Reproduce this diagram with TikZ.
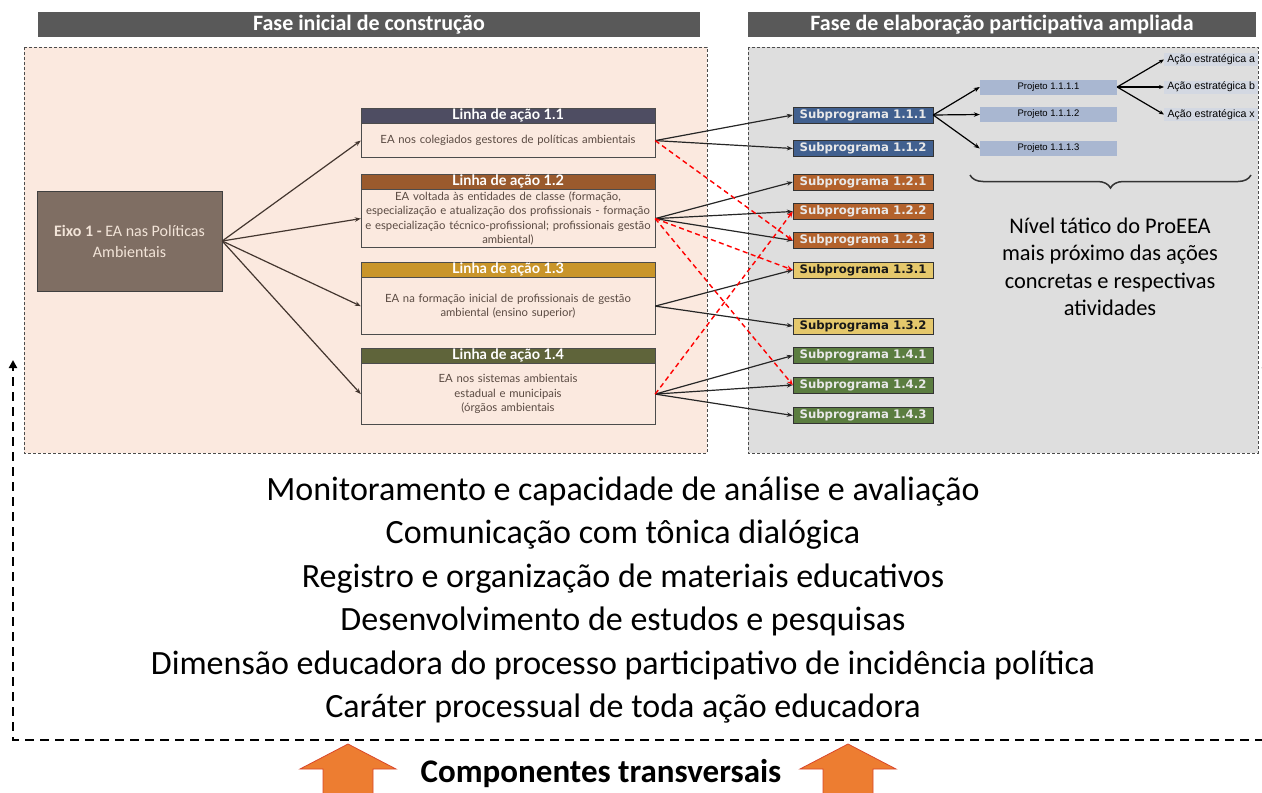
\documentclass[tikz,border=0pt]{standalone}
\usepackage{fontspec}
\setmainfont{Carlito}
\newfontfamily\latofont{Lato}
\newfontfamily\tahofont{DejaVu Sans}
\newfontfamily\arialfont{Liberation Sans}
\usetikzlibrary{arrows.meta,decorations.pathreplacing}

\definecolor{hdrgray}{HTML}{595959}
\definecolor{peach}{HTML}{FBE9DF}
\definecolor{panelgray}{HTML}{DEDEDE}
\definecolor{eixobrown}{HTML}{7F6E63}
\definecolor{eixotext}{HTML}{F2E4D8}
\definecolor{lhead11}{HTML}{4E4D62}
\definecolor{lhead12}{HTML}{9A5A2D}
\definecolor{lhead13}{HTML}{C9952A}
\definecolor{lhead14}{HTML}{5F643A}
\definecolor{sblue}{HTML}{41608F}
\definecolor{sorange}{HTML}{B3622C}
\definecolor{syellow}{HTML}{E5C86C}
\definecolor{sgreen}{HTML}{5B7D40}
\definecolor{subtext}{HTML}{E8E8E8}
\definecolor{projblue}{HTML}{A9B7D1}
\definecolor{acaoblue}{HTML}{D3D8E2}
\definecolor{linkbrown}{HTML}{43362F}
\definecolor{bodytext}{HTML}{5A4A42}
\definecolor{arroworange}{HTML}{ED7D31}
\definecolor{arrowedge}{HTML}{D9472B}

\begin{document}
\begin{tikzpicture}[x=1pt,y=-1pt,
  phasehead/.style={fill=hdrgray, text=white, minimum height=25, inner sep=0pt,
    font=\bfseries\fontsize{22}{24}\selectfont},
  panelline/.style={draw=black!70, line width=0.8pt, dash pattern=on 3pt off 2pt},
  eixobox/.style={draw=black!75, fill=eixobrown, text=eixotext, minimum width=185,
    minimum height=100, align=center, inner sep=0pt, font=\fontsize{16}{21}\selectfont},
  linhahead/.style={draw=black!70, fill=#1, text=white, minimum width=294, minimum height=15,
    inner sep=0pt, anchor=north, font=\latofont\bfseries\fontsize{14.5}{15}\selectfont},
  linhabody/.style={draw=black!70, fill=peach, text=bodytext, minimum width=294,
    minimum height=#1, text width=292, align=center, inner sep=0pt, anchor=north,
    font=\latofont\fontsize{11.3}{14.5}\selectfont},
  subbox/.style={draw=black!80, fill=#1, text=subtext, minimum width=140, minimum height=16,
    inner sep=0pt, font=\tahofont\bfseries\fontsize{11.7}{12}\selectfont},
  subdark/.style={subbox=syellow, text=black!90},
  projeto/.style={fill=projblue, minimum width=137, minimum height=15, inner sep=0pt,
    font=\arialfont\fontsize{9.5}{10}\selectfont},
  acao/.style={fill=acaoblue, minimum width=94, minimum height=13, inner sep=1pt, anchor=west,
    font=\arialfont\fontsize{10.6}{11}\selectfont},
  connector/.style={draw=linkbrown, line width=1.2pt, -{Stealth[length=6pt,width=4.5pt]}},
  reddash/.style={draw=red, line width=1.4pt, dash pattern=on 5pt off 3.5pt,
    -{Stealth[length=6pt,width=5pt]}},
  transarrow/.style={line width=2.4pt, dash pattern=on 9pt off 6pt,
    {Triangle[length=8pt,width=8pt]}-{Triangle[length=8pt,width=8pt]}},
]
\useasboundingbox (0,0) rectangle (1262,793);

% panels and phase titles
\draw[panelline, fill=peach] (24,47) rectangle (707,453);
\draw[panelline, fill=panelgray] (748,47) rectangle (1258,453);
\node[phasehead, minimum width=662] (faseA) at (369,24.5) {Fase inicial de construção};
\node[phasehead, minimum width=508] (faseB) at (1002,24.5) {Fase de elaboração participativa ampliada};

% eixo and linhas de acao
\node[eixobox] (eixo) at (129.5,241) {\textbf{Eixo 1 -} EA nas Políticas\\Ambientais};

\node[linhahead=lhead11] (h11) at (508,108) {Linha de ação 1.1};
\node[linhabody=34] (b11) at (h11.south) {EA nos colegiados gestores de políticas ambientais};
\node[linhahead=lhead12] (h12) at (508,174) {Linha de ação 1.2};
\node[linhabody=58] (b12) at (h12.south) {EA voltada às entidades de classe (formação,\\especialização e atualização dos profissionais - formação\\e especialização técnico-profissional; profissionais gestão\\ambiental)};
\node[linhahead=lhead13] (h13) at (508,262) {Linha de ação 1.3};
\node[linhabody=57] (b13) at (h13.south) {EA na formação inicial de profissionais de gestão\\ambiental (ensino superior)};
\node[linhahead=lhead14] (h14) at (508,348) {Linha de ação 1.4};
\node[linhabody=61] (b14) at (h14.south) {EA nos sistemas ambientais\\estadual e municipais\\(órgãos ambientais};

% subprogramas
\node[subbox=sblue] (s111) at (863,115) {Subprograma 1.1.1};
\node[subbox=sblue] (s112) at (863,148.5) {Subprograma 1.1.2};
\node[subbox=sorange] (s121) at (863,182) {Subprograma 1.2.1};
\node[subbox=sorange] (s122) at (863,211.5) {Subprograma 1.2.2};
\node[subbox=sorange] (s123) at (863,240.5) {Subprograma 1.2.3};
\node[subdark] (s131) at (863,270) {Subprograma 1.3.1};
\node[subdark] (s132) at (863,326) {Subprograma 1.3.2};
\node[subbox=sgreen] (s141) at (863,355.5) {Subprograma 1.4.1};
\node[subbox=sgreen] (s142) at (863,385) {Subprograma 1.4.2};
\node[subbox=sgreen] (s143) at (863,415.5) {Subprograma 1.4.3};

% projetos and acoes
\node[projeto] (p1) at (1048.5,87) {Projeto 1.1.1.1};
\node[projeto] (p2) at (1048.5,114.5) {Projeto 1.1.1.2};
\node[projeto] (p3) at (1048.5,148.5) {Projeto 1.1.1.3};
\node[acao] (a1) at (1164,59.5) {Ação estratégica a};
\node[acao] (a2) at (1164,87) {Ação estratégica b};
\node[acao] (a3) at (1164,114.5) {Ação estratégica x};

% connectors
\foreach \b in {b11,b12,b13,b14}
  \draw[connector] (eixo.east) -- (\b.west);
\draw[connector, draw=black!85] (b11.east) -- (s111.west);
\draw[connector, draw=black!85] (b11.east) -- (s112.west);
\draw[connector, draw=black!85] (b12.east) -- (s121.west);
\draw[connector, draw=black!85] (b12.east) -- (s122.west);
\draw[connector, draw=black!85] (b12.east) -- (s123.west);
\draw[connector, draw=black!85] (b13.east) -- (s131.west);
\draw[connector, draw=black!85] (b13.east) -- (s132.west);
\draw[connector, draw=black!85] (b14.east) -- (s141.west);
\draw[connector, draw=black!85] (b14.east) -- (s142.west);
\draw[connector, draw=black!85] (b14.east) -- (s143.west);
\draw[reddash] (b11.east) -- (s123.west);
\draw[reddash] (b12.east) -- (s131.west);
\draw[reddash] (b12.east) -- (s142.west);
\draw[reddash] (b14.east) -- (s122.west);
\foreach \p in {p1,p2,p3}
  \draw[connector, draw=black] (s111.east) -- (\p.west);
\foreach \a in {a1,a2,a3}
  \draw[connector, draw=black, -{Stealth[length=5pt,width=4pt]}] (p1.east) -- (\a.west);

% nivel tatico
\draw[black!80, line width=1.5pt, decorate, decoration={brace, amplitude=13pt, aspect=0.5}] (1251,175) -- (970,175);
\node[align=center, font=\fontsize{22.4}{27.5}\selectfont] (nivel) at (1110,267)
  {Nível tático do ProEEA\\mais próximo das ações\\concretas e respectivas\\atividades};

% componentes transversais
\node[align=center, font=\fontsize{34}{43.4}\selectfont] (comps) at (623,600)
  {Monitoramento e capacidade de análise e avaliação\\
   Comunicação com tônica dialógica\\
   Registro e organização de materiais educativos\\
   Desenvolvimento de estudos e pesquisas\\
   Dimensão educadora do processo participativo de incidência política\\
   Caráter processual de toda ação educadora};
\coordinate (tl) at (13,360);
\coordinate (bl) at (13,740);
\coordinate (br) at (1266,740);
\coordinate (tr) at (1266,360);
\draw[transarrow] (tr) -- (br) -- (bl) -- (tl);
\foreach \ax in {348,848}
  \filldraw[draw=arrowedge, fill=arroworange, line width=0.8pt]
    (\ax,744) -- (\ax+48,769) -- (\ax+25,769) -- (\ax+25,800) -- (\ax-25,800)
    -- (\ax-25,769) -- (\ax-48,769) -- cycle;
\node[font=\bfseries\fontsize{33}{35}\selectfont] (transv) at (601,774) {Componentes transversais};
\end{tikzpicture}
\end{document}
